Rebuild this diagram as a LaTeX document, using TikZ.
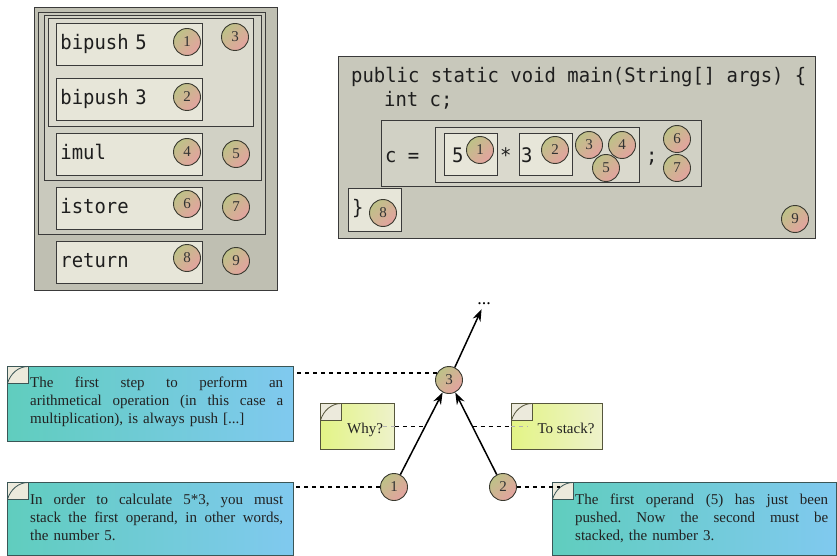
\documentclass[tikz,border=0pt]{standalone}
\usepackage{fontspec}
\setmainfont{Liberation Serif}
\newfontfamily\codefont[FakeStretch=0.945]{DejaVu Sans Mono}
\usetikzlibrary{arrows.meta,calc}
\frenchspacing

\definecolor{edge}{HTML}{3A3A3A}
\definecolor{panelA}{HTML}{BFBFB2}
\definecolor{panelB}{HTML}{C9C9BD}
\definecolor{panelC}{HTML}{D1D1C5}
\definecolor{panelD}{HTML}{DCDBCF}
\definecolor{instrfill}{HTML}{E7E6D9}
\definecolor{codeA}{HTML}{C8C8BB}
\definecolor{codeB}{HTML}{D1D1C5}
\definecolor{codeC}{HTML}{DAD9CD}
\definecolor{codeink}{HTML}{1E1E1E}
\definecolor{ballA}{HTML}{BDC287}
\definecolor{ballB}{HTML}{E4A2A0}
\definecolor{balledge}{HTML}{3A3A30}
\definecolor{ballink}{HTML}{333333}
\definecolor{noteL}{HTML}{60CDBE}
\definecolor{noteR}{HTML}{80C9EF}
\definecolor{noteedge}{HTML}{3B5656}
\definecolor{stickyL}{HTML}{E3F486}
\definecolor{stickyR}{HTML}{EEF2CB}
\definecolor{stickyedge}{HTML}{56563C}
\definecolor{curlfill}{HTML}{ECEADC}
\definecolor{noteink}{HTML}{222222}

\tikzset{
  blk/.style={draw=edge, line width=0.9pt, inner sep=0pt, anchor=north west},
  sz/.style 2 args={minimum width=#1pt, minimum height=#2pt},
  codetxt/.style={font=\codefont\fontsize{20}{24}\selectfont, text=codeink},
  codeline/.style={codetxt, inner sep=0pt, anchor=base west},
  instr/.style={blk, sz={146}{42}, fill=instrfill, codetxt, text height=15pt,
    text depth=4pt, inner xsep=4pt, text width=138pt, align=left},
  ball/.style={circle, draw=balledge, line width=0.9pt, minimum size=27pt,
    inner sep=0pt, top color=ballA, bottom color=ballB, shading angle=45,
    text=ballink, font=\fontsize{15}{15}\selectfont},
  curlcorner/.style={path picture={
    \coordinate (pc) at (path picture bounding box.north west);
    \fill[curlfill] (pc) rectangle ($(pc)+(21pt,-17pt)$);
    \draw[#1, line width=0.8pt] ($(pc)+(0pt,-17pt)$)
      .. controls ($(pc)+(3pt,-7pt)$) and ($(pc)+(11pt,0pt)$) .. ($(pc)+(21pt,0pt)$)
      -- ($(pc)+(21pt,-17pt)$) -- cycle;
  }},
  note/.style={blk, draw=noteedge, left color=noteL, right color=noteR,
    curlcorner=noteedge},
  sticky/.style={blk, draw=stickyedge, left color=stickyL, right color=stickyR,
    curlcorner=stickyedge},
  notetext/.style={font=\fontsize{15}{18}\selectfont, inner sep=0pt,
    anchor=north west, text width=253pt, align=left, text=noteink},
  stickytext/.style={font=\fontsize{15}{18}\selectfont, inner sep=0pt,
    anchor=base, text=noteink},
  link/.style={dash pattern=on 4pt off 4pt, line width=1.1pt},
  flow/.style={-{Stealth[length=12pt,width=8.5pt]}, line width=1.5pt},
}

% a fully justified line and a last (flush left) line of a note
\newcommand{\jline}[1]{\makebox[253pt][s]{\spaceskip=0pt\relax\xspaceskip=0pt\relax\strut #1}}
\newcommand{\lline}[1]{\strut #1}

\begin{document}
\begin{tikzpicture}[x=1pt,y=-1pt]
\useasboundingbox (0,0) rectangle (837,556);

% ---- bytecode listing ----
\node[blk, sz={243}{283}, fill=panelA] (lpanel) at (34,7) {};
\node[blk, sz={227}{222}, fill=panelB] (grp7) at (38,12) {};
\node[blk, sz={217}{165}, fill=panelC] (grp5) at (44,15) {};
\node[blk, sz={205}{108}, fill=panelD] (grp3) at (48,18) {};
\node[instr] (i1) at (56,23) {bipush 5};
\node[instr] (i2) at (56,78) {bipush 3};
\node[instr] (i3) at (56,133) {imul};
\node[instr] (i4) at (56,187) {istore};
\node[instr] (i5) at (56,241) {return};

\node[ball] (l1) at (187,42) {1};
\node[ball] (l2) at (187,97) {2};
\node[ball] (l3) at (235,37) {3};
\node[ball] (l4) at (187,152) {4};
\node[ball] (l5) at (236,154) {5};
\node[ball] (l6) at (187,204) {6};
\node[ball] (l7) at (236,207) {7};
\node[ball] (l8) at (187,258) {8};
\node[ball] (l9) at (236,261) {9};

% ---- Java source ----
\node[blk, sz={477}{182}, fill=codeA] (cpanel) at (338,56) {};
\node[codeline] (sig) at (351,83) {public static void main(String[] args) \{};
\node[codeline] (decl) at (384,107) {int c;};
\node[blk, sz={320}{66}, fill=codeB] (stmt) at (381,120) {};
\node[blk, sz={204}{55}, fill=codeC] (expr) at (435,127) {};
\node[blk, sz={53}{42}, fill=instrfill] (opA) at (444,133) {};
\node[blk, sz={53}{42}, fill=instrfill] (opB) at (519,133) {};
\node[blk, sz={53}{43}, fill=instrfill] (endblk) at (348,188) {};
\node[codeline] (lhs) at (385,163) {c =};
\node[codeline] (five) at (452,163) {5};
\node[codeline] (times) at (500,163) {*};
\node[codeline] (three) at (521,163) {3};
\node[codeline] (semi) at (646,163) {;};
\node[codeline] (close) at (352,214) {\}};

\node[ball] (r1) at (480,150) {1};
\node[ball] (r2) at (555,150) {2};
\node[ball] (r3) at (589,145) {3};
\node[ball] (r4) at (622,145) {4};
\node[ball] (r5) at (606,168) {5};
\node[ball] (r6) at (677,139) {6};
\node[ball] (r7) at (677,168) {7};
\node[ball] (r8) at (383,213) {8};
\node[ball] (r9) at (795,219) {9};

% ---- notes ----
\node[note, sz={286}{75}] (noteA) at (7,366) {};
\node[notetext] (noteAtxt) at (30,374.4) {%
  \jline{The first step to perform an}\\
  \jline{arithmetical operation (in this case a}\\
  \lline{multiplication), is always push [...]}};
\node[note, sz={286}{73}] (noteB) at (7,482) {};
\node[notetext] (noteBtxt) at (30,491.4) {%
  \jline{In order to calculate 5*3, you must}\\
  \jline{stack the first operand, in other words,}\\
  \lline{the number 5.}};
\node[note, sz={284}{73}] (noteC) at (552,482) {};
\node[notetext] (noteCtxt) at (575,491.4) {%
  \jline{The first operand (5) has just been}\\
  \jline{pushed. Now the second must be}\\
  \lline{stacked, the number 3.}};
\node[sticky, sz={74}{46}] (why) at (320,403) {};
\node[stickytext] (whytxt) at (365,433) {Why?};
\node[sticky, sz={91}{46}] (stack) at (511,403) {};
\node[stickytext] (stacktxt) at (566,433) {To stack?};

% ---- evaluation tree ----
\node[ball] (b3) at (449,380) {3};
\node[ball] (b1) at (394,487) {1};
\node[ball] (b2) at (503,487) {2};
\node[font=\fontsize{18}{18}\selectfont, inner sep=4pt] (dots) at (484,304) {...};

\draw[flow] (b1) -- coordinate[pos=0.58] (j1) (b3);
\draw[flow] (b2) -- coordinate[pos=0.58] (j2) (b3);
\draw[flow] (b3) -- (dots);

\draw[link] (b3.150) -- (b3.150 -| noteA.east);
\draw[link] (b1.west) -- (b1.west -| noteB.east);
\draw[link, shorten >=-8pt] (b2.east) -- (b2.east -| noteC.west);
\draw[link] (j1 -| why.east) -- (j1);
\draw[link, black!30] (j1 -| whytxt.east) -- (j1 -| why.east);
\draw[link] (j2) -- (j2 -| stack.west);
\draw[link, black!30, shorten >=9pt] (j2 -| stack.west) -- (j2 -| stacktxt.west);
\end{tikzpicture}
\end{document}
